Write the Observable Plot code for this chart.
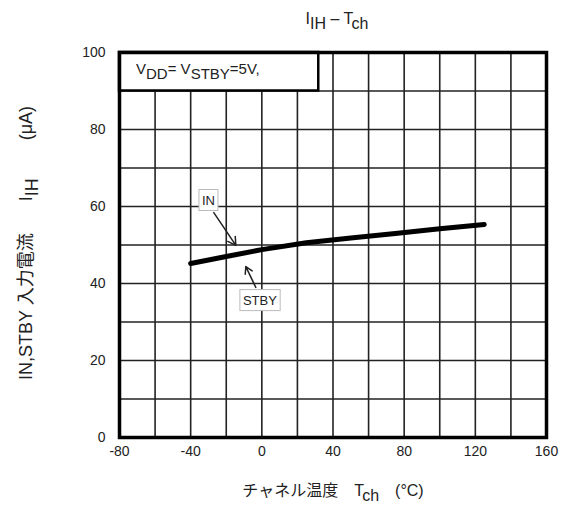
<!DOCTYPE html>
<html><head><meta charset="utf-8">
<script src="https://cdn.jsdelivr.net/npm/d3@7"></script>
<script src="https://cdn.jsdelivr.net/npm/@observablehq/plot@0.6"></script>
<style>
body{margin:0;background:#fff;}
svg{font-family:"Liberation Sans","Noto Sans CJK JP",Arial,sans-serif;}
</style></head>
<body><div id="chart"></div>
<script>
const temps = [-40, -20, 0, 25, 50, 75, 100, 125];
const iih = [45.2, 47.0, 48.8, 50.6, 51.8, 53.0, 54.2, 55.3];
const xTicks = [-80, -40, 0, 40, 80, 120, 160];
const yTicks = [0, 20, 40, 60, 80, 100];
const xGrid = d3.range(-80, 161, 20);
const yGrid = d3.range(0, 101, 10);
const labels = [
  {name: "IN", x: -30, y: 61.6, ax1: -27, ay1: 58.4, ax2: -14.6, ay2: 49.9},
  {name: "STBY", x: -1.1, y: 35.6, ax1: -3.4, ay1: 39, ax2: -9, ay2: 44.4}
];
const condBox = {x1: -80, x2: 32, y1: 90, y2: 100};

const data = temps.map((t, i) => ({t, v: iih[i]}));

const chart = Plot.plot({
  width: 574, height: 508,
  marginLeft: 119, marginRight: 28, marginTop: 52, marginBottom: 71,
  style: {fontFamily: '"Liberation Sans","Noto Sans CJK JP",Arial,sans-serif', fontSize: "14px", color: "#222"},
  x: {domain: [-80, 160]},
  y: {domain: [0, 100]},
  marks: [
    Plot.ruleX(xGrid, {stroke: "#222", strokeWidth: 1.6}),
    Plot.ruleY(yGrid, {stroke: "#222", strokeWidth: 1.6}),
    Plot.rect([condBox], {x1: "x1", x2: "x2", y1: "y1", y2: "y2", fill: "white", stroke: "#000", strokeWidth: 2.5}),
    Plot.line(data, {x: "t", y: "v", stroke: "#000", strokeWidth: 5, curve: "linear"}),
    Plot.arrow(labels, {x1: "ax1", y1: "ay1", x2: "ax2", y2: "ay2", stroke: "#222", strokeWidth: 1.5, headLength: 9}),
    Plot.text(labels, {x: "x", y: "y", text: "name", fontSize: 13, fill: "#222", className: "lbl"}),
    Plot.frame({stroke: "#000", strokeWidth: 3.5}),
    Plot.axisX(xTicks, {tickSize: 0, tickPadding: 9, fontSize: 14, label: null, tickFormat: d => String(d)}),
    Plot.axisY(yTicks, {tickSize: 0, tickPadding: 14, fontSize: 14, label: null, tickFormat: d => String(d)})
  ]
});
document.getElementById("chart").append(chart);

const svg = d3.select(chart);
const xs = chart.scale("x"), ys = chart.scale("y");

// white boxes behind label texts
svg.selectAll("g.lbl text").each(function() {
  const b = this.getBBox();
  d3.select(this.parentNode).insert("rect", ":first-child")
    .attr("x", b.x - 3).attr("y", b.y - 3).attr("width", b.width + 6).attr("height", b.height + 6)
    .attr("fill", "white").attr("stroke", "#bbb").attr("stroke-width", 1)
    .attr("transform", this.getAttribute("transform"));
});

function subText(sel, parts, size) {
  const shift = size * 0.32;
  let pending = 0;
  parts.forEach(([txt, sub, dx]) => {
    const t = sel.append("tspan").text(txt);
    if (dx) t.attr("dx", dx);
    if (sub) {
      t.attr("dy", shift + pending);
      pending = -shift;
    } else if (pending) {
      t.attr("dy", pending);
      pending = 0;
    }
  });
}

// condition label
const cond = svg.append("text")
  .attr("x", xs.apply(-80) + 17).attr("y", ys.apply(95) + 3)
  .attr("text-anchor", "start").attr("font-size", 15).attr("fill", "#222");
subText(cond, [["V"], ["DD", true], ["= V"], ["STBY", true], ["=5V,"]], 15);

// title
const title = svg.append("text").attr("x", 337).attr("y", 24)
  .attr("text-anchor", "middle").attr("font-size", 16).attr("fill", "#222");
subText(title, [["I"], ["IH", true], [" \u2013 T"], ["ch", true]], 16);

// x label
const xl = svg.append("text").attr("x", 333).attr("y", 496)
  .attr("text-anchor", "middle").attr("font-size", 16).attr("fill", "#222");
subText(xl, [["チャネル温度\u3000T"], ["ch", true], ["\u3000(°C)"]], 16);

// y label
const yl = svg.append("text").attr("transform", "translate(32,243) rotate(-90)")
  .attr("text-anchor", "middle").attr("font-size", 18).attr("fill", "#222");
subText(yl, [["IN,STBY 入力電流"], ["I", false, 32], ["IH", true], ["(μA)", false, 38]], 18);
</script>
</body></html>
